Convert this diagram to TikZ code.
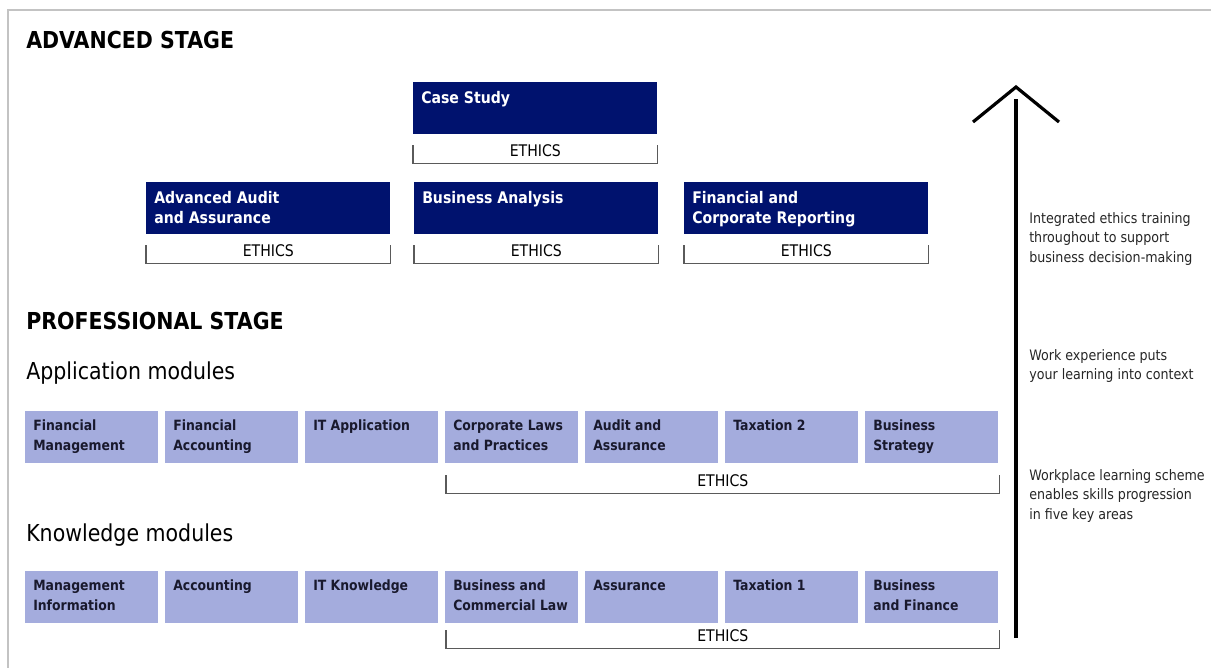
\documentclass[tikz,border=0pt]{standalone}
\usepackage{fontspec}
\setmainfont{DejaVu Sans}[FakeStretch=0.88]
\usepackage{tikz}
\usetikzlibrary{arrows,shapes,positioning}
\usepackage{xcolor}
\definecolor{accnavy}{RGB}{0,18,110}
\definecolor{acclilac}{RGB}{164,172,221}
\definecolor{accgrey}{RGB}{90,90,90}
\definecolor{accframe}{RGB}{195,195,195}
\definecolor{accink}{RGB}{25,25,45}
\tikzstyle{stagehead} = [anchor=base west, inner sep=0pt, font=\fontsize{17.5}{20}\selectfont\bfseries]
\tikzstyle{rowhead} = [anchor=base west, inner sep=0pt, font=\fontsize{17.5}{20}\selectfont]
\tikzstyle{advbox} = [anchor=north west, fill=accnavy, minimum width=183pt, minimum height=39pt, inner sep=0pt]
\tikzstyle{advtext} = [anchor=north west, align=left, text=white, inner xsep=6pt, inner ysep=7.1pt, font=\fontsize{12}{15}\selectfont\bfseries]
\tikzstyle{modbox} = [anchor=north west, fill=acclilac, minimum width=99.75pt, minimum height=39pt, inner sep=0pt]
\tikzstyle{modtext} = [anchor=north west, align=left, text=accink, inner xsep=6pt, inner ysep=6.4pt, font=\fontsize{10.6}{15}\selectfont\bfseries]
\tikzstyle{ethics} = [anchor=north west, inner sep=0pt, minimum height=13.5pt, text height=8.6pt, text depth=5pt, font=\fontsize{12}{14}\selectfont]
\tikzstyle{bracket} = [accgrey, line width=1.1pt]
\tikzstyle{note} = [anchor=north west, align=left, inner sep=0pt, text=black!85, font=\fontsize{10.8}{14.6}\selectfont]
\tikzstyle{growth} = [line width=2.4pt, black]

\begin{document}
\begin{tikzpicture}[x=0.75pt, y=-0.75pt]
\useasboundingbox (0,0) rectangle (1211,668);
\draw[accframe, line width=1.5pt] (8,668) -- (8,10) -- (1211,10);

% advanced stage
\node[stagehead] (adv) at (26,48) {ADVANCED STAGE};
\node[advbox] (cs) at (413,82) {};
\node[advtext] at (cs.north west) {Case Study};
\node[ethics, minimum width=183pt] (ecs) at (413,145) {ETHICS};

\foreach \nm/\xx/\txt in {aau/146/{Advanced Audit\\and Assurance}, ba/414/{Business Analysis}, fcr/684/{Financial and\\Corporate Reporting}} {
  \node[advbox] (\nm) at (\xx,182) {};
  \node[advtext] at (\nm.north west) {\txt};
  \node[ethics, minimum width=183pt] (e\nm) at (\xx,245) {ETHICS};
}
\foreach \e in {ecs, eaau, eba, efcr}
  \draw[bracket] (\e.north west) |- (\e.south) -| (\e.north east);

% professional stage
\node[stagehead] (pro) at (26,329) {PROFESSIONAL STAGE};
\node[rowhead] (apphead) at (26,379) {Application modules};
\foreach \nm/\txt [count=\i from 0] in {fm/{Financial\\Management}, fa/{Financial\\Accounting}, ita/{IT Application}, clp/{Corporate Laws\\and Practices}, aa/{Audit and\\Assurance}, tx2/{Taxation 2}, bs/{Business\\Strategy}} {
  \node[modbox] (\nm) at ({25+140*\i},411) {};
  \node[modtext] at (\nm.north west) {\txt};
}
\node[ethics, minimum width=414.75pt] (eapp) at (446,475) {ETHICS};

\node[rowhead] (knowhead) at (26,541) {Knowledge modules};
\foreach \nm/\txt [count=\i from 0] in {mi/{Management\\Information}, acc/{Accounting}, itk/{IT Knowledge}, bcl/{Business and\\Commercial Law}, as/{Assurance}, tx1/{Taxation 1}, bf/{Business\\and Finance}} {
  \node[modbox] (\nm) at ({25+140*\i},571) {};
  \node[modtext] at (\nm.north west) {\txt};
}
\node[ethics, minimum width=414.75pt] (eknow) at (446,630) {ETHICS};
\foreach \e in {eapp, eknow}
  \draw[bracket] (\e.north west) |- (\e.south) -| (\e.north east);

% progression arrow
\coordinate (arrowbot) at (1016,638);
\coordinate (arrowtop) at (1016,99);
\coordinate (tip) at (1016,87);
\coordinate (armleft) at (973,122);
\coordinate (armright) at (1059,122);
\draw[growth] (arrowbot) -- (arrowtop);
\draw[growth] (armleft) -- (tip) -- (armright);

\node[note] (n1) at (1029,212) {Integrated ethics training\\throughout to support\\business decision-making};
\node[note] (n2) at (1029,349) {Work experience puts\\your learning into context};
\node[note] (n3) at (1029,469) {Workplace learning scheme\\enables skills progression\\in five key areas};
\end{tikzpicture}
\end{document}
